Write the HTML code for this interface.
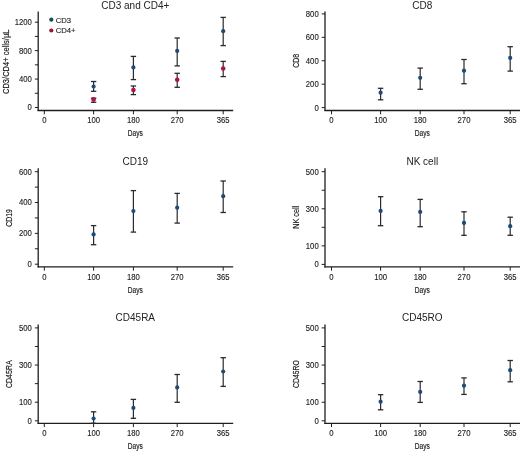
<!DOCTYPE html>
<html><head><meta charset="utf-8"><style>
html,body{margin:0;padding:0;background:#fff;}
body{width:520px;height:452px;overflow:hidden;}
svg{display:block;will-change:transform;}
text{font-family:"Liberation Sans",sans-serif;fill:#222;}
.t{font-size:10px;}
.n{font-size:8.4px;fill:#1a1a1a;stroke:#1a1a1a;stroke-width:0.12px;}
.c{font-size:9px;fill:#1a1a1a;stroke:#1a1a1a;stroke-width:0.18px;}
.yl{font-size:9.6px;fill:#1a1a1a;stroke:#1a1a1a;stroke-width:0.18px;}
.lg{font-size:7.7px;}
.ax{stroke:#1e1e1e;stroke-width:1.3;}
.tk{stroke:#1e1e1e;stroke-width:1;}
.eb{stroke:#2a2a2a;stroke-width:1.2;}
.cap{stroke:#2a2a2a;stroke-width:1.3;}
</style></head><body>
<svg width="520" height="452" viewBox="0 0 520 452">
<text x="135.3" y="8.6" class="t" text-anchor="middle">CD3 and CD4+</text>
<line x1="38.2" y1="11.5" x2="38.2" y2="111.1" class="ax"/>
<line x1="37.6" y1="110.5" x2="233.2" y2="110.5" class="ax"/>
<line x1="34.9" y1="107.5" x2="38.2" y2="107.5" class="tk"/>
<text transform="translate(31.9 110.45) scale(0.92 1)" class="n" text-anchor="end">0</text>
<line x1="34.9" y1="93.28" x2="38.2" y2="93.28" class="tk"/>
<line x1="34.9" y1="79.07" x2="38.2" y2="79.07" class="tk"/>
<text transform="translate(31.9 82.02) scale(0.92 1)" class="n" text-anchor="end">400</text>
<line x1="34.9" y1="64.85" x2="38.2" y2="64.85" class="tk"/>
<line x1="34.9" y1="50.63" x2="38.2" y2="50.63" class="tk"/>
<text transform="translate(31.9 53.58) scale(0.92 1)" class="n" text-anchor="end">800</text>
<line x1="34.9" y1="36.42" x2="38.2" y2="36.42" class="tk"/>
<line x1="34.9" y1="22.2" x2="38.2" y2="22.2" class="tk"/>
<text transform="translate(31.9 25.15) scale(0.92 1)" class="n" text-anchor="end">1200</text>
<line x1="44.3" y1="110.5" x2="44.3" y2="114.3" class="tk"/>
<text transform="translate(44.3 123.4) scale(0.92 1)" class="n" text-anchor="middle">0</text>
<line x1="93.6" y1="110.5" x2="93.6" y2="114.3" class="tk"/>
<text transform="translate(93.6 123.4) scale(0.92 1)" class="n" text-anchor="middle">100</text>
<line x1="133.4" y1="110.5" x2="133.4" y2="114.3" class="tk"/>
<text transform="translate(133.4 123.4) scale(0.92 1)" class="n" text-anchor="middle">180</text>
<line x1="177.2" y1="110.5" x2="177.2" y2="114.3" class="tk"/>
<text transform="translate(177.2 123.4) scale(0.92 1)" class="n" text-anchor="middle">270</text>
<line x1="223.2" y1="110.5" x2="223.2" y2="114.3" class="tk"/>
<text transform="translate(223.2 123.4) scale(0.92 1)" class="n" text-anchor="middle">365</text>
<text transform="translate(135.3 136.4) scale(0.73 1)" class="c" text-anchor="middle">Days</text>
<text transform="translate(9 61.8) rotate(-90)" class="yl" text-anchor="middle" textLength="64.5" lengthAdjust="spacingAndGlyphs">CD3/CD4+ cells/µL</text>
<line x1="93.6" y1="81.5" x2="93.6" y2="91.3" class="eb"/>
<line x1="90.9" y1="81.5" x2="96.3" y2="81.5" class="cap"/>
<line x1="90.9" y1="91.3" x2="96.3" y2="91.3" class="cap"/>
<circle cx="93.6" cy="86.5" r="2.1" fill="#1d4a76"/>
<line x1="133.4" y1="56.4" x2="133.4" y2="79.6" class="eb"/>
<line x1="130.7" y1="56.4" x2="136.1" y2="56.4" class="cap"/>
<line x1="130.7" y1="79.6" x2="136.1" y2="79.6" class="cap"/>
<circle cx="133.4" cy="67.4" r="2.1" fill="#1d4a76"/>
<line x1="177.2" y1="38" x2="177.2" y2="65.9" class="eb"/>
<line x1="174.5" y1="38" x2="179.9" y2="38" class="cap"/>
<line x1="174.5" y1="65.9" x2="179.9" y2="65.9" class="cap"/>
<circle cx="177.2" cy="50.9" r="2.1" fill="#1d4a76"/>
<line x1="223.2" y1="17.4" x2="223.2" y2="45.6" class="eb"/>
<line x1="220.5" y1="17.4" x2="225.9" y2="17.4" class="cap"/>
<line x1="220.5" y1="45.6" x2="225.9" y2="45.6" class="cap"/>
<circle cx="223.2" cy="31.2" r="2.1" fill="#1d4a76"/>
<line x1="93.6" y1="98.2" x2="93.6" y2="102.3" class="eb"/>
<line x1="90.9" y1="98.2" x2="96.3" y2="98.2" class="cap"/>
<line x1="90.9" y1="102.3" x2="96.3" y2="102.3" class="cap"/>
<circle cx="93.6" cy="99.4" r="2.3" fill="#aa1740"/>
<line x1="133.4" y1="86" x2="133.4" y2="94.6" class="eb"/>
<line x1="130.7" y1="86" x2="136.1" y2="86" class="cap"/>
<line x1="130.7" y1="94.6" x2="136.1" y2="94.6" class="cap"/>
<circle cx="133.4" cy="90" r="2.3" fill="#aa1740"/>
<line x1="177.2" y1="73.3" x2="177.2" y2="87.3" class="eb"/>
<line x1="174.5" y1="73.3" x2="179.9" y2="73.3" class="cap"/>
<line x1="174.5" y1="87.3" x2="179.9" y2="87.3" class="cap"/>
<circle cx="177.2" cy="79.8" r="2.3" fill="#aa1740"/>
<line x1="223.2" y1="61.4" x2="223.2" y2="76.6" class="eb"/>
<line x1="220.5" y1="61.4" x2="225.9" y2="61.4" class="cap"/>
<line x1="220.5" y1="76.6" x2="225.9" y2="76.6" class="cap"/>
<circle cx="223.2" cy="68.5" r="2.3" fill="#aa1740"/>
<text x="422.3" y="8.6" class="t" text-anchor="middle">CD8</text>
<line x1="325" y1="11.5" x2="325" y2="111.1" class="ax"/>
<line x1="324.4" y1="110.5" x2="521" y2="110.5" class="ax"/>
<line x1="321.7" y1="107.6" x2="325" y2="107.6" class="tk"/>
<text transform="translate(318.7 110.55) scale(0.92 1)" class="n" text-anchor="end">0</text>
<line x1="321.7" y1="84.17" x2="325" y2="84.17" class="tk"/>
<text transform="translate(318.7 87.12) scale(0.92 1)" class="n" text-anchor="end">200</text>
<line x1="321.7" y1="60.75" x2="325" y2="60.75" class="tk"/>
<text transform="translate(318.7 63.7) scale(0.92 1)" class="n" text-anchor="end">400</text>
<line x1="321.7" y1="37.33" x2="325" y2="37.33" class="tk"/>
<text transform="translate(318.7 40.28) scale(0.92 1)" class="n" text-anchor="end">600</text>
<line x1="321.7" y1="13.9" x2="325" y2="13.9" class="tk"/>
<text transform="translate(318.7 16.85) scale(0.92 1)" class="n" text-anchor="end">800</text>
<line x1="331.5" y1="110.5" x2="331.5" y2="114.3" class="tk"/>
<text transform="translate(331.5 123.4) scale(0.92 1)" class="n" text-anchor="middle">0</text>
<line x1="380.6" y1="110.5" x2="380.6" y2="114.3" class="tk"/>
<text transform="translate(380.6 123.4) scale(0.92 1)" class="n" text-anchor="middle">100</text>
<line x1="420.2" y1="110.5" x2="420.2" y2="114.3" class="tk"/>
<text transform="translate(420.2 123.4) scale(0.92 1)" class="n" text-anchor="middle">180</text>
<line x1="464" y1="110.5" x2="464" y2="114.3" class="tk"/>
<text transform="translate(464 123.4) scale(0.92 1)" class="n" text-anchor="middle">270</text>
<line x1="510.2" y1="110.5" x2="510.2" y2="114.3" class="tk"/>
<text transform="translate(510.2 123.4) scale(0.92 1)" class="n" text-anchor="middle">365</text>
<text transform="translate(422.3 136.4) scale(0.73 1)" class="c" text-anchor="middle">Days</text>
<text transform="translate(299.4 60.75) rotate(-90)" class="yl" text-anchor="middle" textLength="14" lengthAdjust="spacingAndGlyphs">CD8</text>
<line x1="380.6" y1="88.3" x2="380.6" y2="99.8" class="eb"/>
<line x1="377.9" y1="88.3" x2="383.3" y2="88.3" class="cap"/>
<line x1="377.9" y1="99.8" x2="383.3" y2="99.8" class="cap"/>
<circle cx="380.6" cy="92.7" r="2.1" fill="#1d4a76"/>
<line x1="420.2" y1="68.1" x2="420.2" y2="89.3" class="eb"/>
<line x1="417.5" y1="68.1" x2="422.9" y2="68.1" class="cap"/>
<line x1="417.5" y1="89.3" x2="422.9" y2="89.3" class="cap"/>
<circle cx="420.2" cy="77.8" r="2.1" fill="#1d4a76"/>
<line x1="464" y1="59.5" x2="464" y2="83.7" class="eb"/>
<line x1="461.3" y1="59.5" x2="466.7" y2="59.5" class="cap"/>
<line x1="461.3" y1="83.7" x2="466.7" y2="83.7" class="cap"/>
<circle cx="464" cy="70.7" r="2.1" fill="#1d4a76"/>
<line x1="510.2" y1="46.7" x2="510.2" y2="71.1" class="eb"/>
<line x1="507.5" y1="46.7" x2="512.9" y2="46.7" class="cap"/>
<line x1="507.5" y1="71.1" x2="512.9" y2="71.1" class="cap"/>
<circle cx="510.2" cy="57.9" r="2.1" fill="#1d4a76"/>
<text x="135.3" y="164.9" class="t" text-anchor="middle">CD19</text>
<line x1="38.2" y1="168.2" x2="38.2" y2="267.5" class="ax"/>
<line x1="37.6" y1="266.9" x2="233.2" y2="266.9" class="ax"/>
<line x1="34.9" y1="264.2" x2="38.2" y2="264.2" class="tk"/>
<text transform="translate(31.9 267.15) scale(0.92 1)" class="n" text-anchor="end">0</text>
<line x1="34.9" y1="248.78" x2="38.2" y2="248.78" class="tk"/>
<line x1="34.9" y1="233.37" x2="38.2" y2="233.37" class="tk"/>
<text transform="translate(31.9 236.32) scale(0.92 1)" class="n" text-anchor="end">200</text>
<line x1="34.9" y1="217.95" x2="38.2" y2="217.95" class="tk"/>
<line x1="34.9" y1="202.53" x2="38.2" y2="202.53" class="tk"/>
<text transform="translate(31.9 205.48) scale(0.92 1)" class="n" text-anchor="end">400</text>
<line x1="34.9" y1="187.12" x2="38.2" y2="187.12" class="tk"/>
<line x1="34.9" y1="171.7" x2="38.2" y2="171.7" class="tk"/>
<text transform="translate(31.9 174.65) scale(0.92 1)" class="n" text-anchor="end">600</text>
<line x1="44.3" y1="266.9" x2="44.3" y2="270.7" class="tk"/>
<text transform="translate(44.3 279.8) scale(0.92 1)" class="n" text-anchor="middle">0</text>
<line x1="93.6" y1="266.9" x2="93.6" y2="270.7" class="tk"/>
<text transform="translate(93.6 279.8) scale(0.92 1)" class="n" text-anchor="middle">100</text>
<line x1="133.4" y1="266.9" x2="133.4" y2="270.7" class="tk"/>
<text transform="translate(133.4 279.8) scale(0.92 1)" class="n" text-anchor="middle">180</text>
<line x1="177.2" y1="266.9" x2="177.2" y2="270.7" class="tk"/>
<text transform="translate(177.2 279.8) scale(0.92 1)" class="n" text-anchor="middle">270</text>
<line x1="223.2" y1="266.9" x2="223.2" y2="270.7" class="tk"/>
<text transform="translate(223.2 279.8) scale(0.92 1)" class="n" text-anchor="middle">365</text>
<text transform="translate(135.3 292.8) scale(0.73 1)" class="c" text-anchor="middle">Days</text>
<text transform="translate(12.2 217.9) rotate(-90)" class="yl" text-anchor="middle" textLength="17.6" lengthAdjust="spacingAndGlyphs">CD19</text>
<line x1="93.6" y1="225.6" x2="93.6" y2="244.7" class="eb"/>
<line x1="90.9" y1="225.6" x2="96.3" y2="225.6" class="cap"/>
<line x1="90.9" y1="244.7" x2="96.3" y2="244.7" class="cap"/>
<circle cx="93.6" cy="234.4" r="2.1" fill="#1d4a76"/>
<line x1="133.4" y1="190.6" x2="133.4" y2="232.1" class="eb"/>
<line x1="130.7" y1="190.6" x2="136.1" y2="190.6" class="cap"/>
<line x1="130.7" y1="232.1" x2="136.1" y2="232.1" class="cap"/>
<circle cx="133.4" cy="211.1" r="2.1" fill="#1d4a76"/>
<line x1="177.2" y1="193.4" x2="177.2" y2="223.1" class="eb"/>
<line x1="174.5" y1="193.4" x2="179.9" y2="193.4" class="cap"/>
<line x1="174.5" y1="223.1" x2="179.9" y2="223.1" class="cap"/>
<circle cx="177.2" cy="207.7" r="2.1" fill="#1d4a76"/>
<line x1="223.2" y1="181" x2="223.2" y2="212.5" class="eb"/>
<line x1="220.5" y1="181" x2="225.9" y2="181" class="cap"/>
<line x1="220.5" y1="212.5" x2="225.9" y2="212.5" class="cap"/>
<circle cx="223.2" cy="196.2" r="2.1" fill="#1d4a76"/>
<text x="422.3" y="164.9" class="t" text-anchor="middle">NK cell</text>
<line x1="325" y1="168.2" x2="325" y2="267.5" class="ax"/>
<line x1="324.4" y1="266.9" x2="521" y2="266.9" class="ax"/>
<line x1="321.7" y1="264.4" x2="325" y2="264.4" class="tk"/>
<text transform="translate(318.7 267.35) scale(0.92 1)" class="n" text-anchor="end">0</text>
<line x1="321.7" y1="245.86" x2="325" y2="245.86" class="tk"/>
<text transform="translate(318.7 248.81) scale(0.92 1)" class="n" text-anchor="end">100</text>
<line x1="321.7" y1="227.32" x2="325" y2="227.32" class="tk"/>
<line x1="321.7" y1="208.78" x2="325" y2="208.78" class="tk"/>
<text transform="translate(318.7 211.73) scale(0.92 1)" class="n" text-anchor="end">300</text>
<line x1="321.7" y1="190.24" x2="325" y2="190.24" class="tk"/>
<line x1="321.7" y1="171.7" x2="325" y2="171.7" class="tk"/>
<text transform="translate(318.7 174.65) scale(0.92 1)" class="n" text-anchor="end">500</text>
<line x1="331.5" y1="266.9" x2="331.5" y2="270.7" class="tk"/>
<text transform="translate(331.5 279.8) scale(0.92 1)" class="n" text-anchor="middle">0</text>
<line x1="380.6" y1="266.9" x2="380.6" y2="270.7" class="tk"/>
<text transform="translate(380.6 279.8) scale(0.92 1)" class="n" text-anchor="middle">100</text>
<line x1="420.2" y1="266.9" x2="420.2" y2="270.7" class="tk"/>
<text transform="translate(420.2 279.8) scale(0.92 1)" class="n" text-anchor="middle">180</text>
<line x1="464" y1="266.9" x2="464" y2="270.7" class="tk"/>
<text transform="translate(464 279.8) scale(0.92 1)" class="n" text-anchor="middle">270</text>
<line x1="510.2" y1="266.9" x2="510.2" y2="270.7" class="tk"/>
<text transform="translate(510.2 279.8) scale(0.92 1)" class="n" text-anchor="middle">365</text>
<text transform="translate(422.3 292.8) scale(0.73 1)" class="c" text-anchor="middle">Days</text>
<text transform="translate(299.4 217.25) rotate(-90)" class="yl" text-anchor="middle" textLength="23" lengthAdjust="spacingAndGlyphs">NK cell</text>
<line x1="380.6" y1="196.7" x2="380.6" y2="225.7" class="eb"/>
<line x1="377.9" y1="196.7" x2="383.3" y2="196.7" class="cap"/>
<line x1="377.9" y1="225.7" x2="383.3" y2="225.7" class="cap"/>
<circle cx="380.6" cy="210.9" r="2.1" fill="#1d4a76"/>
<line x1="420.2" y1="199.4" x2="420.2" y2="226.7" class="eb"/>
<line x1="417.5" y1="199.4" x2="422.9" y2="199.4" class="cap"/>
<line x1="417.5" y1="226.7" x2="422.9" y2="226.7" class="cap"/>
<circle cx="420.2" cy="211.9" r="2.1" fill="#1d4a76"/>
<line x1="464" y1="211.8" x2="464" y2="235.3" class="eb"/>
<line x1="461.3" y1="211.8" x2="466.7" y2="211.8" class="cap"/>
<line x1="461.3" y1="235.3" x2="466.7" y2="235.3" class="cap"/>
<circle cx="464" cy="222.9" r="2.1" fill="#1d4a76"/>
<line x1="510.2" y1="217.2" x2="510.2" y2="235.3" class="eb"/>
<line x1="507.5" y1="217.2" x2="512.9" y2="217.2" class="cap"/>
<line x1="507.5" y1="235.3" x2="512.9" y2="235.3" class="cap"/>
<circle cx="510.2" cy="226.2" r="2.1" fill="#1d4a76"/>
<text x="135.3" y="321.2" class="t" text-anchor="middle">CD45RA</text>
<line x1="38.2" y1="324.6" x2="38.2" y2="423.9" class="ax"/>
<line x1="37.6" y1="423.3" x2="233.2" y2="423.3" class="ax"/>
<line x1="34.9" y1="420.8" x2="38.2" y2="420.8" class="tk"/>
<text transform="translate(31.9 423.75) scale(0.92 1)" class="n" text-anchor="end">0</text>
<line x1="34.9" y1="402.22" x2="38.2" y2="402.22" class="tk"/>
<text transform="translate(31.9 405.17) scale(0.92 1)" class="n" text-anchor="end">100</text>
<line x1="34.9" y1="383.64" x2="38.2" y2="383.64" class="tk"/>
<line x1="34.9" y1="365.06" x2="38.2" y2="365.06" class="tk"/>
<text transform="translate(31.9 368.01) scale(0.92 1)" class="n" text-anchor="end">300</text>
<line x1="34.9" y1="346.48" x2="38.2" y2="346.48" class="tk"/>
<line x1="34.9" y1="327.9" x2="38.2" y2="327.9" class="tk"/>
<text transform="translate(31.9 330.85) scale(0.92 1)" class="n" text-anchor="end">500</text>
<line x1="44.3" y1="423.3" x2="44.3" y2="427.1" class="tk"/>
<text transform="translate(44.3 436.2) scale(0.92 1)" class="n" text-anchor="middle">0</text>
<line x1="93.6" y1="423.3" x2="93.6" y2="427.1" class="tk"/>
<text transform="translate(93.6 436.2) scale(0.92 1)" class="n" text-anchor="middle">100</text>
<line x1="133.4" y1="423.3" x2="133.4" y2="427.1" class="tk"/>
<text transform="translate(133.4 436.2) scale(0.92 1)" class="n" text-anchor="middle">180</text>
<line x1="177.2" y1="423.3" x2="177.2" y2="427.1" class="tk"/>
<text transform="translate(177.2 436.2) scale(0.92 1)" class="n" text-anchor="middle">270</text>
<line x1="223.2" y1="423.3" x2="223.2" y2="427.1" class="tk"/>
<text transform="translate(223.2 436.2) scale(0.92 1)" class="n" text-anchor="middle">365</text>
<text transform="translate(135.3 449.2) scale(0.73 1)" class="c" text-anchor="middle">Days</text>
<text transform="translate(12.4 374.2) rotate(-90)" class="yl" text-anchor="middle" textLength="27.6" lengthAdjust="spacingAndGlyphs">CD45RA</text>
<line x1="93.6" y1="411.8" x2="93.6" y2="423.3" class="eb"/>
<line x1="90.9" y1="411.8" x2="96.3" y2="411.8" class="cap"/>
<line x1="90.9" y1="423.3" x2="96.3" y2="423.3" class="cap"/>
<circle cx="93.6" cy="418.5" r="2.1" fill="#1d4a76"/>
<line x1="133.4" y1="399.4" x2="133.4" y2="418.3" class="eb"/>
<line x1="130.7" y1="399.4" x2="136.1" y2="399.4" class="cap"/>
<line x1="130.7" y1="418.3" x2="136.1" y2="418.3" class="cap"/>
<circle cx="133.4" cy="407.9" r="2.1" fill="#1d4a76"/>
<line x1="177.2" y1="374.5" x2="177.2" y2="402.3" class="eb"/>
<line x1="174.5" y1="374.5" x2="179.9" y2="374.5" class="cap"/>
<line x1="174.5" y1="402.3" x2="179.9" y2="402.3" class="cap"/>
<circle cx="177.2" cy="387.4" r="2.1" fill="#1d4a76"/>
<line x1="223.2" y1="357.7" x2="223.2" y2="386.4" class="eb"/>
<line x1="220.5" y1="357.7" x2="225.9" y2="357.7" class="cap"/>
<line x1="220.5" y1="386.4" x2="225.9" y2="386.4" class="cap"/>
<circle cx="223.2" cy="371.5" r="2.1" fill="#1d4a76"/>
<text x="422.3" y="321.2" class="t" text-anchor="middle">CD45RO</text>
<line x1="325" y1="324.6" x2="325" y2="423.9" class="ax"/>
<line x1="324.4" y1="423.3" x2="521" y2="423.3" class="ax"/>
<line x1="321.7" y1="420.8" x2="325" y2="420.8" class="tk"/>
<text transform="translate(318.7 423.75) scale(0.92 1)" class="n" text-anchor="end">0</text>
<line x1="321.7" y1="402.22" x2="325" y2="402.22" class="tk"/>
<text transform="translate(318.7 405.17) scale(0.92 1)" class="n" text-anchor="end">100</text>
<line x1="321.7" y1="383.64" x2="325" y2="383.64" class="tk"/>
<line x1="321.7" y1="365.06" x2="325" y2="365.06" class="tk"/>
<text transform="translate(318.7 368.01) scale(0.92 1)" class="n" text-anchor="end">300</text>
<line x1="321.7" y1="346.48" x2="325" y2="346.48" class="tk"/>
<line x1="321.7" y1="327.9" x2="325" y2="327.9" class="tk"/>
<text transform="translate(318.7 330.85) scale(0.92 1)" class="n" text-anchor="end">500</text>
<line x1="331.5" y1="423.3" x2="331.5" y2="427.1" class="tk"/>
<text transform="translate(331.5 436.2) scale(0.92 1)" class="n" text-anchor="middle">0</text>
<line x1="380.6" y1="423.3" x2="380.6" y2="427.1" class="tk"/>
<text transform="translate(380.6 436.2) scale(0.92 1)" class="n" text-anchor="middle">100</text>
<line x1="420.2" y1="423.3" x2="420.2" y2="427.1" class="tk"/>
<text transform="translate(420.2 436.2) scale(0.92 1)" class="n" text-anchor="middle">180</text>
<line x1="464" y1="423.3" x2="464" y2="427.1" class="tk"/>
<text transform="translate(464 436.2) scale(0.92 1)" class="n" text-anchor="middle">270</text>
<line x1="510.2" y1="423.3" x2="510.2" y2="427.1" class="tk"/>
<text transform="translate(510.2 436.2) scale(0.92 1)" class="n" text-anchor="middle">365</text>
<text transform="translate(422.3 449.2) scale(0.73 1)" class="c" text-anchor="middle">Days</text>
<text transform="translate(299.4 374.1) rotate(-90)" class="yl" text-anchor="middle" textLength="27.8" lengthAdjust="spacingAndGlyphs">CD45RO</text>
<line x1="380.6" y1="394.7" x2="380.6" y2="409.8" class="eb"/>
<line x1="377.9" y1="394.7" x2="383.3" y2="394.7" class="cap"/>
<line x1="377.9" y1="409.8" x2="383.3" y2="409.8" class="cap"/>
<circle cx="380.6" cy="401.7" r="2.1" fill="#1d4a76"/>
<line x1="420.2" y1="381.5" x2="420.2" y2="402.4" class="eb"/>
<line x1="417.5" y1="381.5" x2="422.9" y2="381.5" class="cap"/>
<line x1="417.5" y1="402.4" x2="422.9" y2="402.4" class="cap"/>
<circle cx="420.2" cy="391.9" r="2.1" fill="#1d4a76"/>
<line x1="464" y1="377.9" x2="464" y2="394.4" class="eb"/>
<line x1="461.3" y1="377.9" x2="466.7" y2="377.9" class="cap"/>
<line x1="461.3" y1="394.4" x2="466.7" y2="394.4" class="cap"/>
<circle cx="464" cy="385.7" r="2.1" fill="#1d4a76"/>
<line x1="510.2" y1="360.5" x2="510.2" y2="381.8" class="eb"/>
<line x1="507.5" y1="360.5" x2="512.9" y2="360.5" class="cap"/>
<line x1="507.5" y1="381.8" x2="512.9" y2="381.8" class="cap"/>
<circle cx="510.2" cy="370.2" r="2.1" fill="#1d4a76"/>
<circle cx="51.3" cy="19.7" r="2.1" fill="#155050"/>
<circle cx="51.3" cy="30.5" r="2.1" fill="#9e1430"/>
<text x="55.7" y="22.6" class="n lg">CD3</text>
<text x="55.7" y="33.0" class="n lg">CD4+</text>
</svg>
</body></html>
